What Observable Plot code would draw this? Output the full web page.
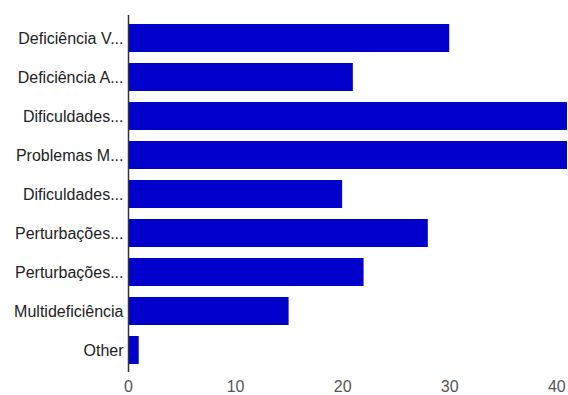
<!DOCTYPE html>
<html>
<head>
<meta charset="utf-8">
<script src="https://cdn.jsdelivr.net/npm/d3@7"></script>
<script src="https://cdn.jsdelivr.net/npm/@observablehq/plot@0.6"></script>
<style>
  html, body { margin: 0; padding: 0; background: #fff; }
  svg { display: block; }
</style>
</head>
<body>
<div id="chart"></div>
<script>
const categories = [
  "Deficiência V...",
  "Deficiência A...",
  "Dificuldades...",
  "Problemas M...",
  "Dificuldades... ",
  "Perturbações...",
  "Perturbações... ",
  "Multideficiência",
  "Other"
];
const values = [30, 21, 41, 41, 20, 28, 22, 15, 1];
const xTicks = [0, 10, 20, 30, 40];

const data = categories.map((c, i) => ({category: c, value: values[i]}));

const chart = Plot.plot({
  width: 568,
  height: 395,
  marginLeft: 128,
  marginRight: 1,
  marginTop: 16,
  marginBottom: 24,
  style: {fontFamily: "Liberation Sans, Arial, sans-serif", fontSize: "16px", background: "#fff"},
  x: {domain: [0, 41]},
  y: {domain: categories, paddingInner: 0.29, paddingOuter: 0.145},
  marks: [
    Plot.barX(data, {x: "value", y: "category", fill: "#0000cc"}),
    Plot.axisX({ticks: xTicks, tickSize: 0, tickPadding: 9, fontSize: 16, color: "#555", label: null}),
    Plot.axisY({tickSize: 0, tickPadding: 5, fontSize: 16, color: "#222", label: null,
      tickFormat: d => d.trim()}),
    Plot.ruleX([0], {stroke: "#333", strokeWidth: 1.5, insetTop: -1, insetBottom: -1})
  ]
});
document.getElementById("chart").appendChild(chart);
</script>
</body>
</html>
